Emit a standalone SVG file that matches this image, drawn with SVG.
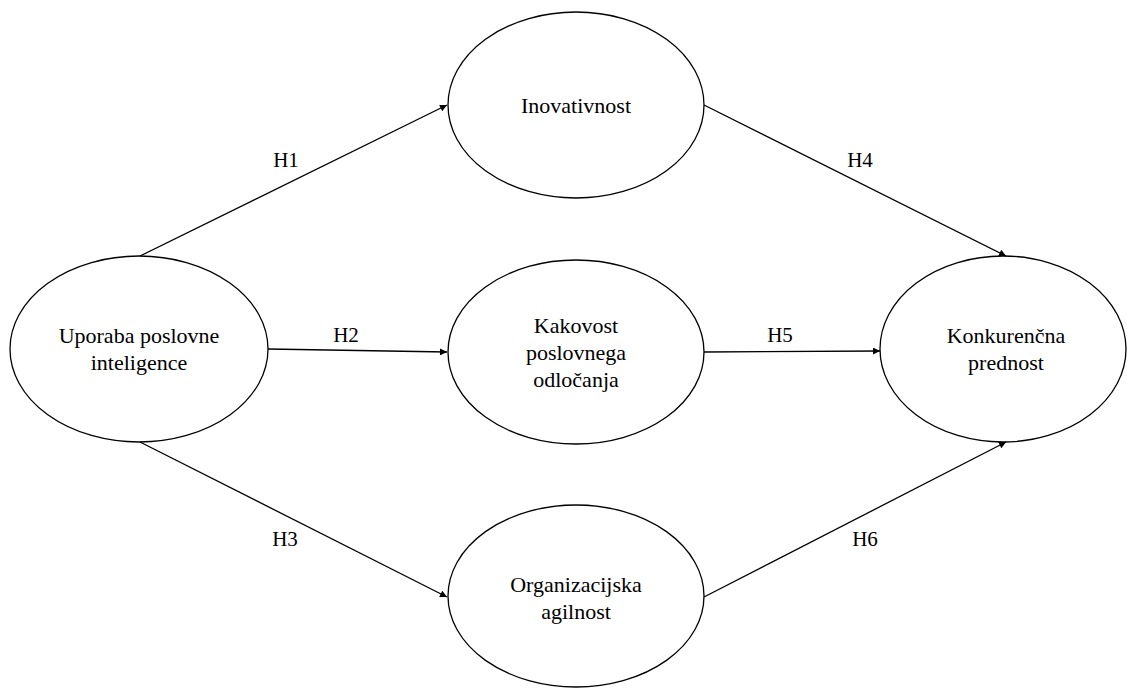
<svg xmlns="http://www.w3.org/2000/svg" width="1127" height="688" viewBox="0 0 1127 688">
  <style>
    .node { fill: #ffffff; stroke: #000000; stroke-width: 1.3; }
    .lbl { font-family: "Liberation Serif", "Times New Roman", serif; font-size: 22px; fill: #000000; text-anchor: middle; }
    .hyp { font-family: "Liberation Serif", "Times New Roman", serif; font-size: 21px; fill: #000000; text-anchor: middle; }
    .edge { stroke: #000000; stroke-width: 1.3; fill: none; marker-end: url(#arrow); }
  </style>
  <defs>
    <marker id="arrow" viewBox="0 0 10 10" refX="10" refY="5" markerWidth="8" markerHeight="7" markerUnits="userSpaceOnUse" orient="auto">
      <path d="M0,0 L10,5 L0,10 z" fill="#000000"/>
    </marker>
  </defs>

  <g id="uporaba">
    <ellipse class="node" cx="139" cy="349" rx="129" ry="93"/>
    <text class="lbl" x="139" y="343">Uporaba poslovne</text>
    <text class="lbl" x="139" y="370">inteligence</text>
  </g>

  <g id="inovativnost">
    <ellipse class="node" cx="576" cy="105" rx="128" ry="93"/>
    <text class="lbl" x="576" y="113">Inovativnost</text>
  </g>

  <g id="kakovost">
    <ellipse class="node" cx="576" cy="352" rx="128" ry="92"/>
    <text class="lbl" x="576" y="333">Kakovost</text>
    <text class="lbl" x="576" y="360">poslovnega</text>
    <text class="lbl" x="576" y="387">odločanja</text>
  </g>

  <g id="agilnost">
    <ellipse class="node" cx="576" cy="596" rx="128" ry="91"/>
    <text class="lbl" x="576" y="592">Organizacijska</text>
    <text class="lbl" x="576" y="619">agilnost</text>
  </g>

  <g id="konkurencna">
    <ellipse class="node" cx="1003" cy="349" rx="123" ry="93"/>
    <text class="lbl" x="1006" y="343">Konkurenčna</text>
    <text class="lbl" x="1006" y="370">prednost</text>
  </g>

  <!-- connectors -->
  <g id="connectors">
    <line class="edge" x1="140" y1="256" x2="447" y2="105"/>
    <line class="edge" x1="268" y1="349" x2="447" y2="352"/>
    <line class="edge" x1="140" y1="442" x2="447" y2="597"/>
    <line class="edge" x1="704" y1="105" x2="1006" y2="256"/>
    <line class="edge" x1="704" y1="352" x2="880" y2="351"/>
    <line class="edge" x1="704" y1="597" x2="1006" y2="442"/>
    <text class="hyp" x="286" y="167">H1</text>
    <text class="hyp" x="346" y="342">H2</text>
    <text class="hyp" x="285" y="546">H3</text>
    <text class="hyp" x="860" y="167">H4</text>
    <text class="hyp" x="780" y="342">H5</text>
    <text class="hyp" x="865" y="546">H6</text>
  </g>
</svg>
